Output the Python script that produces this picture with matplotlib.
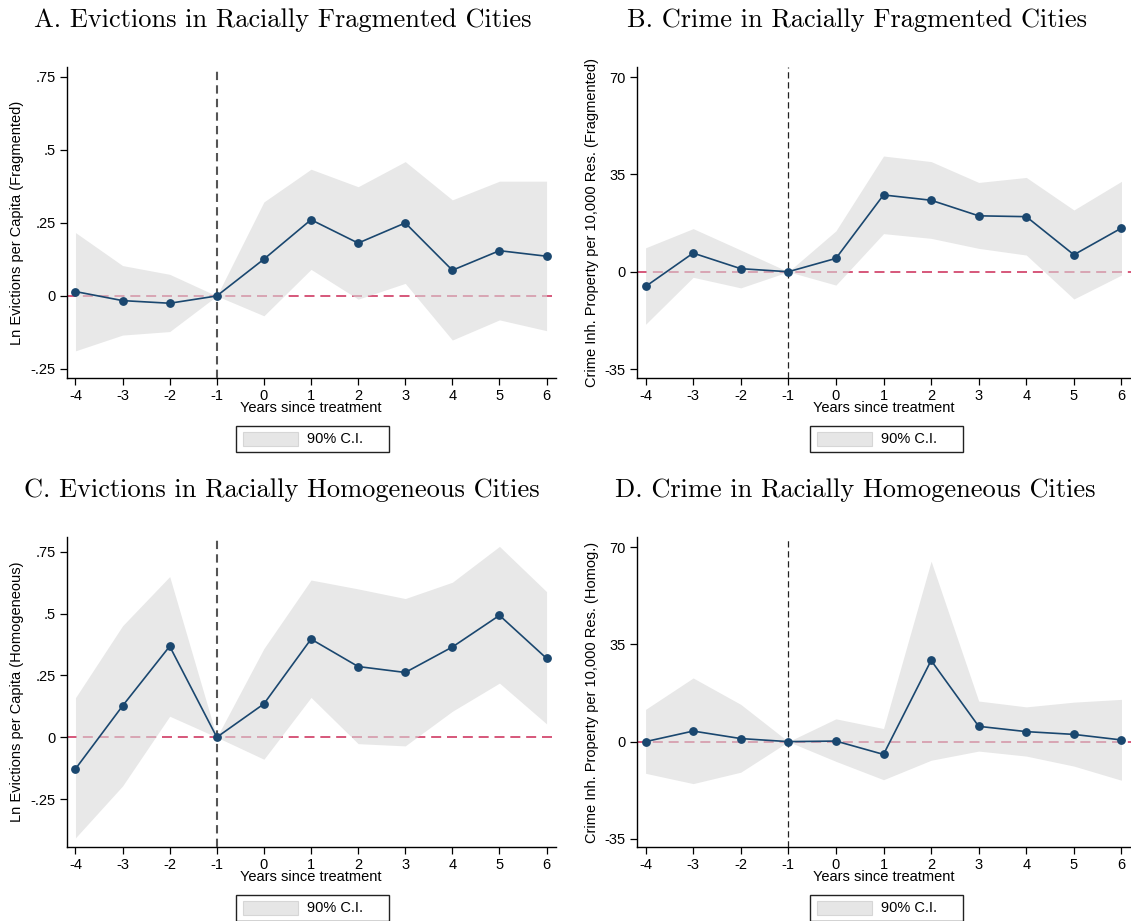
import matplotlib
matplotlib.use("Agg")
import matplotlib.pyplot as plt
from matplotlib.patches import Rectangle

plt.rcParams['font.family'] = ['Liberation Sans', 'DejaVu Sans']
plt.rcParams['axes.unicode_minus'] = False

years = [-4, -3, -2, -1, 0, 1, 2, 3, 4, 5, 6]

# A. evictions, fragmented
evict_frag = [0.015, -0.016, -0.025, 0, 0.126, 0.261, 0.181, 0.25, 0.088, 0.155, 0.136]
evict_frag_hi = [0.217, 0.104, 0.074, 0, 0.322, 0.434, 0.374, 0.46, 0.329, 0.393, 0.393]
evict_frag_lo = [-0.188, -0.134, -0.122, 0, -0.068, 0.091, -0.011, 0.043, -0.151, -0.082, -0.119]

# B. crime, fragmented
crime_frag = [-5.3, 6.7, 1.1, 0, 4.8, 27.6, 25.7, 20.1, 19.8, 6.1, 15.7]
crime_frag_hi = [8.6, 15.5, 7.8, 0, 14.7, 41.6, 39.6, 32.1, 33.9, 22.2, 32.5]
crime_frag_lo = [-18.9, -2.0, -5.8, 0, -4.8, 13.7, 12.0, 8.4, 6.0, -9.8, -1.2]

# C. evictions, homogeneous
evict_homog = [-0.128, 0.127, 0.368, 0, 0.135, 0.397, 0.286, 0.262, 0.365, 0.493, 0.319]
evict_homog_hi = [0.16, 0.451, 0.65, 0, 0.359, 0.636, 0.6, 0.561, 0.627, 0.772, 0.589]
evict_homog_lo = [-0.407, -0.197, 0.085, 0, -0.089, 0.161, -0.026, -0.035, 0.105, 0.219, 0.054]

# D. crime, homogeneous
crime_homog = [0.0, 3.8, 1.1, 0, 0.2, -4.6, 29.2, 5.5, 3.6, 2.6, 0.6]
crime_homog_hi = [11.6, 22.9, 13.4, 0, 8.2, 4.7, 64.9, 14.6, 12.5, 14.2, 15.2]
crime_homog_lo = [-11.4, -15.1, -11.0, 0, -7.1, -13.7, -6.7, -3.4, -5.2, -8.8, -13.9]

evict_ticks = [-0.25, 0, 0.25, 0.5, 0.75]
evict_ticklabels = ['-.25', '0', '.25', '.5', '.75']
crime_ticks = [-35, 0, 35, 70]
crime_ticklabels = ['-35', '0', '35', '70']

W, H = 1131, 921
fig = plt.figure(figsize=(W / 100, H / 100), dpi=100)


def px_axes(left, top, right, bottom):
    return fig.add_axes([left / W, 1 - bottom / H, (right - left) / W, (bottom - top) / H])


NAVY = '#1a476f'
FILL = '#d9d9d9'
ZERO = '#cf3b63'

panels = [
    dict(box=(67, 67, 556, 378), title='A. Evictions in Racially Fragmented Cities', tx=283, ty=20,
         y=evict_frag, hi=evict_frag_hi, lo=evict_frag_lo, ylim=(-0.281, 0.784),
         ticks=evict_ticks, tl=evict_ticklabels, xlx=311, legx=236,
         ylabel='Ln Evictions per Capita (Fragmented)', lx=17, vstyle=('#555555', 1.5, (4, 2.5))),
    dict(box=(637, 67, 1131, 378), title='B. Crime in Racially Fragmented Cities', tx=857, ty=20,
         y=crime_frag, hi=crime_frag_hi, lo=crime_frag_lo, ylim=(-38.2, 73.6),
         ticks=crime_ticks, tl=crime_ticklabels, xlx=884, legx=810,
         ylabel='Crime Inh. Property per 10,000 Res. (Fragmented)', lx=592, vstyle=('#222222', 0.9, (5, 3))),
    dict(box=(67, 537, 556, 847), title='C. Evictions in Racially Homogeneous Cities', tx=282, ty=490,
         y=evict_homog, hi=evict_homog_hi, lo=evict_homog_lo, ylim=(-0.444, 0.81),
         ticks=evict_ticks, tl=evict_ticklabels, xlx=311, legx=236,
         ylabel='Ln Evictions per Capita (Homogeneous)', lx=17, vstyle=('#555555', 1.5, (4, 2.5))),
    dict(box=(637, 537, 1131, 847), title='D. Crime in Racially Homogeneous Cities', tx=855, ty=490,
         y=crime_homog, hi=crime_homog_hi, lo=crime_homog_lo, ylim=(-37.9, 73.6),
         ticks=crime_ticks, tl=crime_ticklabels, xlx=884, legx=810,
         ylabel='Crime Inh. Property per 10,000 Res. (Homog.)', lx=592, vstyle=('#222222', 0.9, (5, 3))),
]

for p in panels:
    l, t, r, b = p['box']
    ax = px_axes(l, t, r, b)
    ax.set_xlim(-4.18, 6.2)
    ax.set_ylim(*p['ylim'])

    ax.axhline(0, color=ZERO, lw=1.2, ls=(0, (6, 3.5)), zorder=1)
    ax.fill_between(years, p['lo'], p['hi'], color=FILL, alpha=0.6, lw=0, zorder=2)
    col, lw, dash = p['vstyle']
    ax.axvline(-1, color=col, lw=lw, ls=(0, dash), zorder=3)
    ax.plot(years, p['y'], color=NAVY, lw=1.2, marker='o', ms=5.3, zorder=4, clip_on=False)

    ax.set_xticks(years)
    ax.set_xticklabels([str(v) for v in years])
    ax.set_yticks(p['ticks'])
    ax.set_yticklabels(p['tl'])
    ax.tick_params(direction='out', length=5, width=0.9, labelsize=10.5, pad=3, colors='black')
    for s in ['top', 'right']:
        ax.spines[s].set_visible(False)
    for s in ['left', 'bottom']:
        ax.spines[s].set_linewidth(1.0)
    ax.set_facecolor('white')

    fig.text(p['tx'] / W, 1 - p['ty'] / H, p['title'], family='cmr10', fontsize=19,
             ha='center', va='center')
    fig.text(p['xlx'] / W, 1 - (b + 30) / H, 'Years since treatment', fontsize=10.5, ha='center', va='center')
    fig.text(p['lx'] / W, 1 - ((t + b) / 2) / H, p['ylabel'], fontsize=10.5, rotation=90,
             ha='center', va='center')

    # legend box
    bx0 = p['legx']
    by0 = b + 48
    fig.patches.append(Rectangle((bx0 / W, 1 - (by0 + 26) / H), 153 / W, 26 / H,
                                 transform=fig.transFigure, fill=False, ec='#222222', lw=1.0))
    fig.patches.append(Rectangle(((bx0 + 7) / W, 1 - (by0 + 20) / H), 55 / W, 14 / H,
                                 transform=fig.transFigure, fc='#e6e6e6', ec='#d6d6d6', lw=0.8))
    fig.text((bx0 + 71) / W, 1 - (by0 + 13) / H, '90% C.I.', fontsize=10.5, ha='left', va='center')

fig.savefig('out.png', dpi=100)
